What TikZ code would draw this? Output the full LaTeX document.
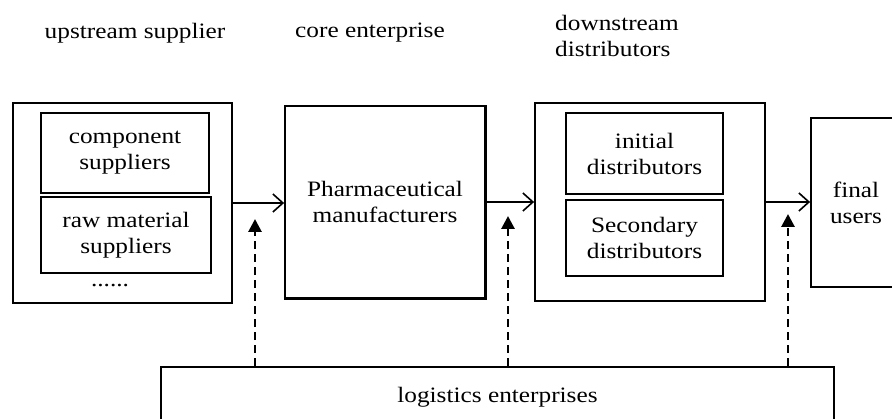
\documentclass[tikz,border=0pt]{standalone}
\usepackage{fontspec}
\setmainfont{Liberation Serif}[FakeStretch=1.15]
\usetikzlibrary{arrows.meta}

\tikzset{
  box/.style={draw, line width=1.8pt, align=center, inner sep=0pt},
  flow/.style={line width=2pt, -{Straight Barb[length=10pt, width=18pt, line width=1.6pt]}},
  supply/.style={line width=2.8pt, dash pattern=on 8pt off 5pt, -{Triangle[length=13pt, width=13pt]}},
  title/.style={align=left, inner sep=0pt}
}

\begin{document}
\begin{tikzpicture}[x=1pt, y=1pt, font=\fontsize{22}{26}\selectfont]
			% page frame, 1 unit = 1 pixel
			\useasboundingbox[fill=white] (0,0) rectangle (892,-419);
			\clip (0,0) rectangle (892,-419);

			% titles of the three tiers
			\node[title] (tup) at (135,-33) {upstream supplier};
			\node[title] (tcore) at (370,-33) {core enterprise};
			\node[title, anchor=west] (tdown) at (555,-36) {downstream\\distributors};

			% upstream suppliers
			\node[box, minimum width=219, minimum height=200] (up) at (122.5,-203) {};
			\node[box, minimum width=168, minimum height=80] (comp) at (125,-153) {component\\suppliers};
			\node[box, minimum width=170, minimum height=76] (raw) at (126,-235) {raw material\\suppliers};
			\node (dots) at (110,-286) {......};

			% core enterprise, with heavier lower and right edge
			\node[box, minimum width=200, minimum height=192] (pharma) at (385,-202) {Pharmaceutical\\manufacturers};
			\draw[line width=2.6pt] (pharma.south west) -- (pharma.south east) -- (pharma.north east);

			% downstream distributors
			\node[box, minimum width=230, minimum height=198] (down) at (650,-202) {};
			\node[box, minimum width=157, minimum height=81] (init) at (644.5,-153.5) {initial\\distributors};
			\node[box, minimum width=157, minimum height=76] (sec) at (644.5,-238) {Secondary\\distributors};

			% final users, runs past the right edge
			\node[box, minimum width=90, minimum height=169] (final) at (856,-202.5) {final\\users};

			% logistics, runs past the bottom edge
			\node[box, minimum width=673, minimum height=60] (logi) at (497.5,-397) {logistics enterprises};

			% flow of goods
			\draw[flow] (up.east) -- (up.east -| pharma.west);
			\draw[flow] (pharma.east) -- (down.west);
			\draw[flow] (down.east) -- (down.east -| final.west);

			% logistics support
			\coordinate (s1) at (255,-219);
			\coordinate (s2) at (508,-216);
			\coordinate (s3) at (788,-214);
			\draw[supply] (logi.north -| s1) -- (s1);
			\draw[supply] (logi.north -| s2) -- (s2);
			\draw[supply] (logi.north -| s3) -- (s3);
\end{tikzpicture}
\end{document}
